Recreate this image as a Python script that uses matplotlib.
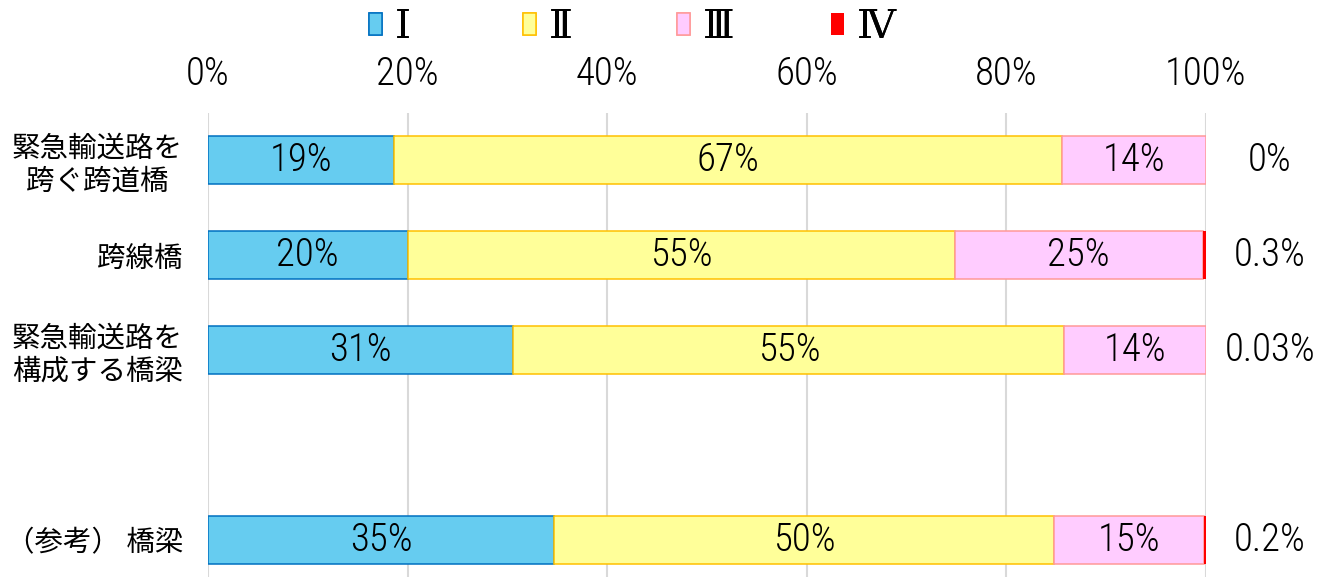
import matplotlib.pyplot as plt
import numpy as np

plt.rcParams['font.family'] = ['Noto Sans CJK JP', 'DejaVu Sans']

categories = ['緊急輸送路を\n跨ぐ跨道橋', '跨線橋', '緊急輸送路を\n構成する橋梁', '（参考） 橋梁']
levels = ['Ⅰ', 'Ⅱ', 'Ⅲ', 'Ⅳ']
# 各区分の割合(%)
v1 = [18.6, 20.0, 30.6, 34.7]
v2 = [67.0, 54.8, 55.2, 50.1]
v3 = [14.4, 24.9, 14.17, 15.0]
v4 = [0.0, 0.3, 0.03, 0.2]
xticks = [0, 20, 40, 60, 80, 100]

fills = ['#66CCF0', '#FFFF99', '#FFCCFF', '#FF0000']
edges = ['#0070C0', '#FFC000', '#FF9999', '#FF0000']
num_font = ['Roboto Condensed', 'Noto Sans CJK JP']
num_kw = dict(family=num_font, fontsize=28, fontweight='light')

fig = plt.figure(figsize=(13.32, 5.77), dpi=100)
ax = fig.add_axes([208/1332, 0, 998/1332, 1 - 112.5/577])

ypos = [0, 1, 2, 4]
left = np.zeros(4)
handles = []
for i, vals in enumerate([v1, v2, v3, v4]):
    lw = 0 if i == 3 else 1.1
    b = ax.barh(ypos, vals, left=left, height=0.5, color=fills[i],
                edgecolor=edges[i], linewidth=lw, label=levels[i], zorder=3)
    handles.append(b)
    if i < 3:
        for y, l, v in zip(ypos, left, vals):
            ax.text(l + v/2, y, f'{round(v)}%', ha='center', va='center',
                    zorder=4, **num_kw)
    left = left + np.array(vals)

for y, v in zip(ypos, v4):
    ax.text(106.4, y, f'{v:g}%', ha='center', va='center', **num_kw)

ax.set_xlim(0, 100)
ax.set_ylim(4.39, -0.5)
ax.xaxis.tick_top()
ax.set_xticks(xticks)
ax.set_xticklabels([f'{t}%' for t in xticks], **num_kw)
ax.set_yticks(ypos)
ax.set_yticklabels(categories, fontsize=20.5, multialignment='center',
                   linespacing=1.15)
ax.tick_params(axis='both', length=0)
ax.tick_params(axis='x', pad=14)
ax.tick_params(axis='y', pad=18)
ax.grid(axis='x', color='#D9D9D9', linewidth=1.5, zorder=0)
ax.set_axisbelow(True)
for s in ax.spines.values():
    s.set_visible(False)

# 凡例 (Excel風に等間隔で配置)
for i, h in enumerate(handles):
    leg = fig.legend(handles=[h], loc='center left', frameon=False,
                     bbox_to_anchor=((369 + 154*i)/1332, 1 - 28/577),
                     borderpad=0, borderaxespad=0,
                     handlelength=0.33, handleheight=0.45, handletextpad=0.3,
                     prop={'family': ['DejaVu Serif', 'Noto Sans CJK JP'], 'size': 29})
    fig.add_artist(leg)

fig.savefig('out.png', dpi=100)
